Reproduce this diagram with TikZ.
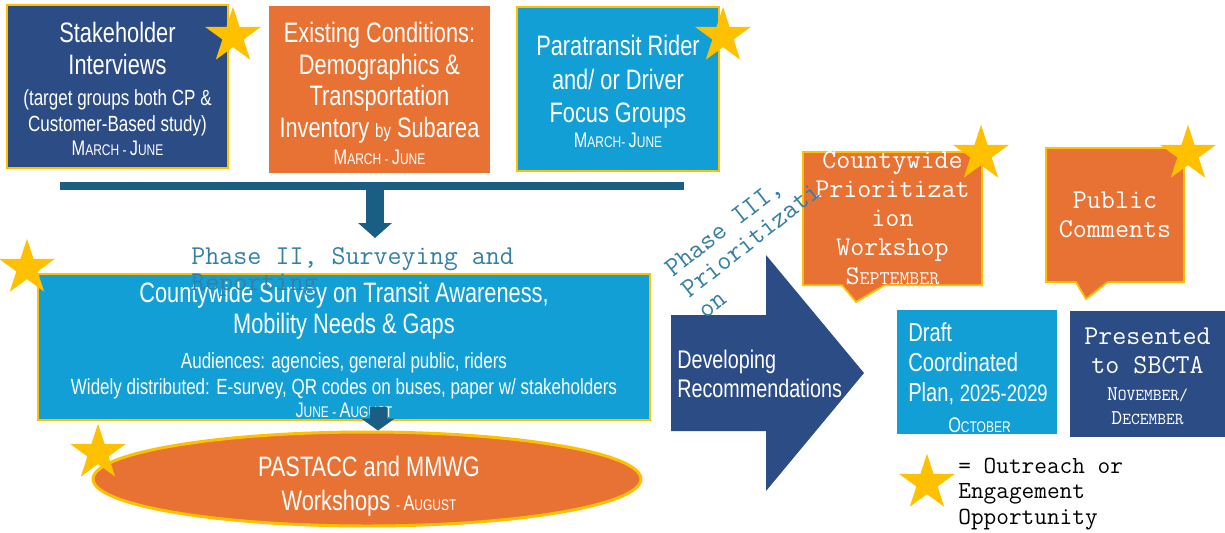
\documentclass[tikz,border=0pt]{standalone}
\usepackage{fontspec}
\setmainfont{Liberation Sans}[FakeStretch=0.775]
\usepackage{tikz}
\usetikzlibrary{shapes.geometric,shapes.callouts,arrows.meta}

\definecolor{navy}{RGB}{44,76,134}
\definecolor{rust}{RGB}{232,114,51}
\definecolor{sky}{RGB}{18,159,214}
\definecolor{steel}{RGB}{27,94,132}
\definecolor{gold}{RGB}{255,192,0}
\definecolor{phasetxt}{RGB}{52,128,165}

\newcommand{\txtbig}{\fontsize{16}{17.6}\selectfont}
\newcommand{\txtsmall}{\fontsize{12.5}{14}\selectfont}
\newcommand{\txtmono}{\ttfamily\fontsize{15.5}{16.5}\selectfont}
\newcommand{\datefont}{\fontsize{8.8}{10}\selectfont}
\newcommand{\capfirst}[1]{{\fontsize{12}{12}\selectfont#1}}
\newcommand{\ttsc}[3]{#2{\fontsize{#1}{#1}\selectfont#3}}
\newcommand{\topstrut}[1]{\rule{0pt}{#1}}

\begin{document}
\begin{tikzpicture}[x=0.02cm, y=-0.02cm,
	box/.style={rectangle, inner sep=0pt, text=white, align=center, font=\txtbig},
	edged/.style={draw=gold, line width=1pt},
	ostar/.style={star, star points=5, star point ratio=2.618, fill=gold, inner sep=0pt, minimum size=1.17cm},
	flow/.style={steel, line width=0.36cm, -{Triangle[width=0.66cm, length=0.3cm]}},
	phase/.style={text=phasetxt, align=left, inner sep=0pt, font=\ttfamily\fontsize{15.5}{15}\selectfont}]

	\useasboundingbox (0,0) rectangle (1225,532);

	% phase I boxes and the bar under them
	\fill[steel] (60,182) rectangle (684,190);
	\coordinate (bar) at (375,186);
	\coordinate (p2in) at (375,238);
	\draw[flow] (bar) -- (p2in);

	\node[box, edged, fill=navy, minimum width=4.42cm, minimum height=3.26cm] (stake) at (117.5,86.5)
		{\topstrut{14.5pt}Stakeholder\\[0.5pt]Interviews\\[0.2pt]{\txtsmall (target groups both CP \&}\\[-3pt]{\txtsmall Customer-Based study)}\\[-3.5pt]{\datefont\capfirst{M}ARCH - \capfirst{J}UNE}};
	\node[box, fill=rust, minimum width=4.42cm, minimum height=3.34cm] (exist) at (379.5,89.5)
		{\topstrut{15.7pt}Existing Conditions:\\[0.5pt]Demographics \&\\[0.5pt]Transportation\\[0.5pt]Inventory {\fontsize{11}{11}\selectfont by} Subarea\\[-2.5pt]{\datefont\capfirst{M}ARCH - \capfirst{J}UNE}};
	\node[box, edged, fill=sky, minimum width=4.04cm, minimum height=3.28cm] (focus) at (618,89)
		{\topstrut{14.7pt}Paratransit Rider\\[1.5pt]and/ or Driver\\[1pt]Focus Groups\\[-3pt]{\datefont\capfirst{M}ARCH- \capfirst{J}UNE}};

	% phase II
	\node[box, edged, fill=sky, minimum width=12.24cm, minimum height=2.92cm] (survey) at (344,347)
		{\topstrut{15pt}Countywide Survey on Transit Awareness,\\[0.5pt]Mobility Needs \& Gaps\\[2pt]{\txtsmall Audiences: agencies, general public, riders}\\[-2.5pt]{\txtsmall Widely distributed: E-survey, QR codes on buses, paper w/ stakeholders}\\[-4.5pt]{\datefont\capfirst{J}UNE - \capfirst{A}UGUST}};
	\node[phase, anchor=north west] (phase2) at (191,247) {Phase II, Surveying and\\Reporting};

	\node[ellipse, fill=rust, draw=gold, line width=1.7pt, minimum width=10.96cm, minimum height=1.88cm, inner sep=0pt] (pastacc) at (367,479) {};
	\node[text=white, align=center, inner sep=0pt, font=\txtbig] (pastacctxt) at (369,486)
		{PASTACC and MMWG\\[2pt]Workshops {\datefont - \capfirst{A}UGUST}};
	\coordinate (svout) at (378,407);
	\draw[flow, line width=0.34cm, -{Triangle[width=0.66cm, length=0.24cm]}] (svout) -- (svout |- pastacc.north);

	% phase III
	\fill[navy] (671,315) -- (766,315) -- (766,255) -- (864,373) -- (766,491) -- (766,431) -- (671,431) -- cycle;
	\node[text=white, anchor=west, align=left, inner sep=0pt, font=\fontsize{14.5}{16.5}\selectfont] (devrec) at (677,374) {Developing\\Recommendations};

	\node[box, edged, fill=rust, rectangle callout, callout absolute pointer={(856,302)}, callout pointer width=0.86cm,
		minimum width=3.58cm, minimum height=2.66cm, font=\txtmono] (prio) at (892.5,218.5)
		{Countywide\\Prioritizat\\ion\\Workshop\\\ttsc{11}{S}{EPTEMBER}};
	\node[box, edged, fill=rust, rectangle callout, callout absolute pointer={(1086,299)}, callout pointer width=0.64cm,
		minimum width=2.76cm, minimum height=2.68cm, font=\txtmono] (pubcom) at (1115,215)
		{Public\\Comments};
	\node[phase, rotate=38, anchor=west] (phase3) at (684,292) {Phase III,\\Prioritizati\\on};

	\node[box, fill=sky, minimum width=3.2cm, minimum height=2.48cm] (draft) at (977,372) {};
	\node[text=white, align=left, inner sep=0pt, font=\fontsize{14.8}{16.5}\selectfont] (drafttxt) at (978,378)
		{Draft\\[0.5pt]Coordinated\\[0.5pt]Plan, {\fontsize{13.5}{14}\selectfont 2025-2029}\\[1.5pt]\hspace*{0.8cm}{\datefont\capfirst{O}CTOBER}};
	\node[box, fill=navy, minimum width=3.1cm, minimum height=2.52cm, font=\txtmono] (present) at (1147.5,374)
		{\topstrut{12pt}Presented\\to SBCTA\\[-1pt]\ttsc{9.5}{\fontsize{12}{12}\selectfont N}{OVEMBER/}\\[-3pt]\ttsc{9.5}{\fontsize{12}{12}\selectfont D}{ECEMBER}};

	% outreach stars
	\node[ostar] (star1) at (233,36) {};
	\node[ostar] (star2) at (723,36) {};
	\node[ostar] (star3) at (27,268) {};
	\node[ostar] (star4) at (98,453) {};
	\node[ostar] (star5) at (981,154) {};
	\node[ostar] (star6) at (1188,154) {};

	% key
	\node[ostar] (keystar) at (927,483) {};
	\node[anchor=west, align=left, inner sep=0pt, font=\ttfamily\fontsize{14}{14.5}\selectfont] (keytxt) at (958,494)
		{= Outreach or\\Engagement\\Opportunity};
\end{tikzpicture}
\end{document}
